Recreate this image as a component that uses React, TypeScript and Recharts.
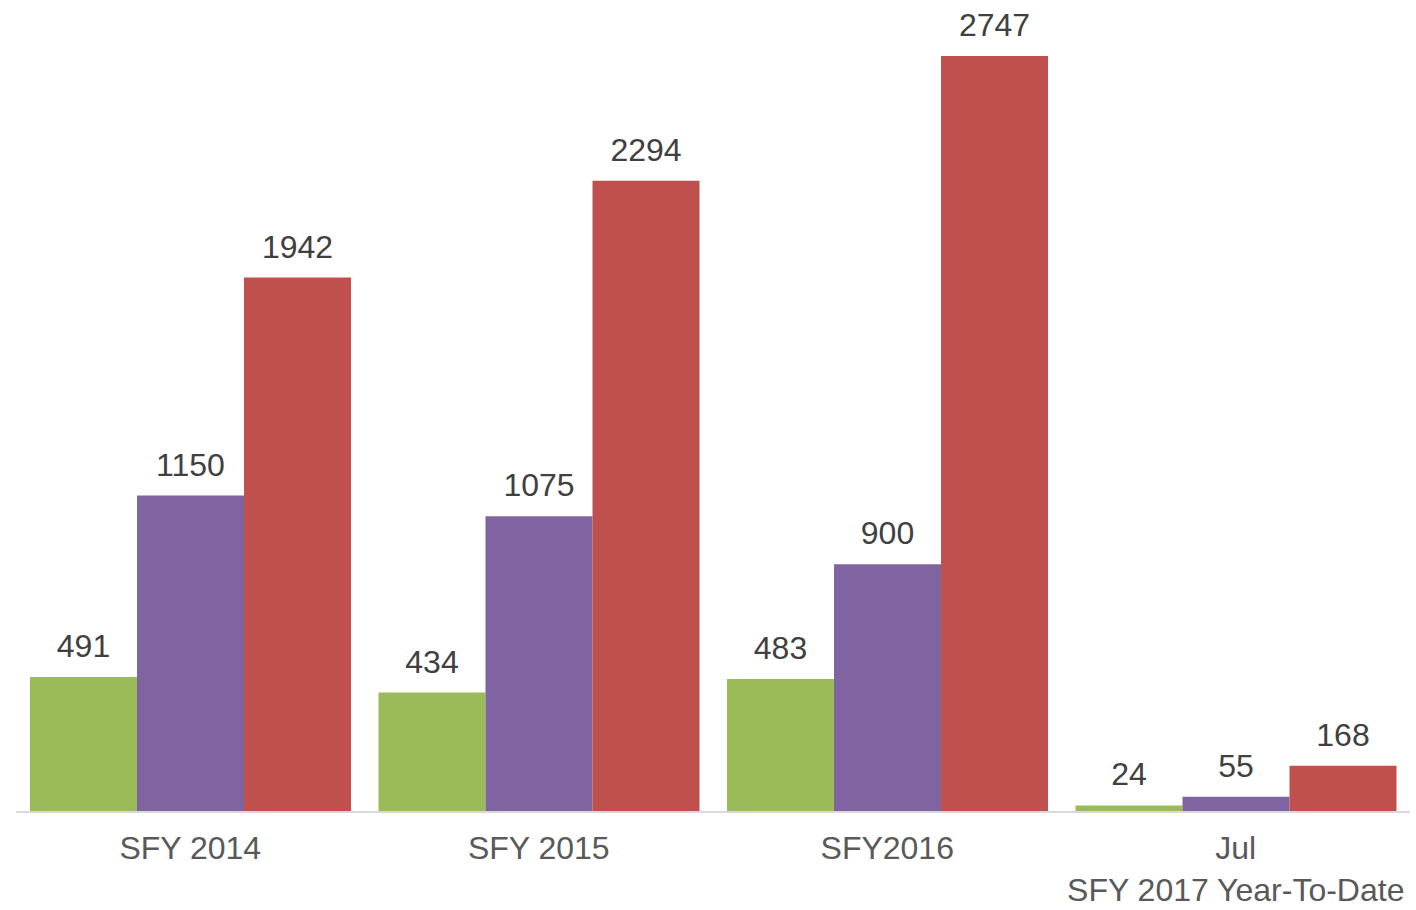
import React from "react";
import { BarChart, Bar, XAxis, YAxis, LabelList } from "recharts";

const categories = ["SFY 2014", "SFY 2015", "SFY2016", "Jul\nSFY 2017 Year-To-Date"];
const greenValues = [491, 434, 483, 24];
const purpleValues = [1150, 1075, 900, 55];
const redValues = [1942, 2294, 2747, 168];

const data = categories.map((c, i) => ({
  category: c,
  green: greenValues[i],
  purple: purpleValues[i],
  red: redValues[i],
}));

const FONT = "'Liberation Sans', Arial, sans-serif";

const CategoryTick = (props: any) => {
  const { x, y, payload } = props;
  const lines = String(payload.value).split("\n");
  return (
    <g>
      {lines.map((l: string, i: number) => (
        <text
          key={i}
          x={x}
          y={y + 47 + i * 42}
          textAnchor="middle"
          fill="#595959"
          fontSize={32}
          fontFamily={FONT}
        >
          {l}
        </text>
      ))}
    </g>
  );
};

export default function App() {
  return (
    <div style={{ position: "absolute", left: 0, top: 0, background: "#fff" }}>
      <BarChart
        width={1416}
        height={910}
        data={data}
        margin={{ top: 14, right: 6, bottom: 0, left: 16 }}
        barCategoryGap={14}
        barGap={0}
      >
        <XAxis
          dataKey="category"
          height={98}
          tickLine={false}
          tickSize={0}
          tickMargin={0}
          interval={0}
          axisLine={{ stroke: "#D9D9D9", strokeWidth: 2 }}
          tick={<CategoryTick />}
        />
        <YAxis hide domain={[0, 2900]} />
        <Bar dataKey="green" fill="#9BBB59" isAnimationActive={false}>
          <LabelList dataKey="green" position="top" offset={20} fill="#404040" fontSize={32} fontFamily={FONT} />
        </Bar>
        <Bar dataKey="purple" fill="#8064A2" isAnimationActive={false}>
          <LabelList dataKey="purple" position="top" offset={20} fill="#404040" fontSize={32} fontFamily={FONT} />
        </Bar>
        <Bar dataKey="red" fill="#C0504D" isAnimationActive={false}>
          <LabelList dataKey="red" position="top" offset={20} fill="#404040" fontSize={32} fontFamily={FONT} />
        </Bar>
      </BarChart>
    </div>
  );
}
